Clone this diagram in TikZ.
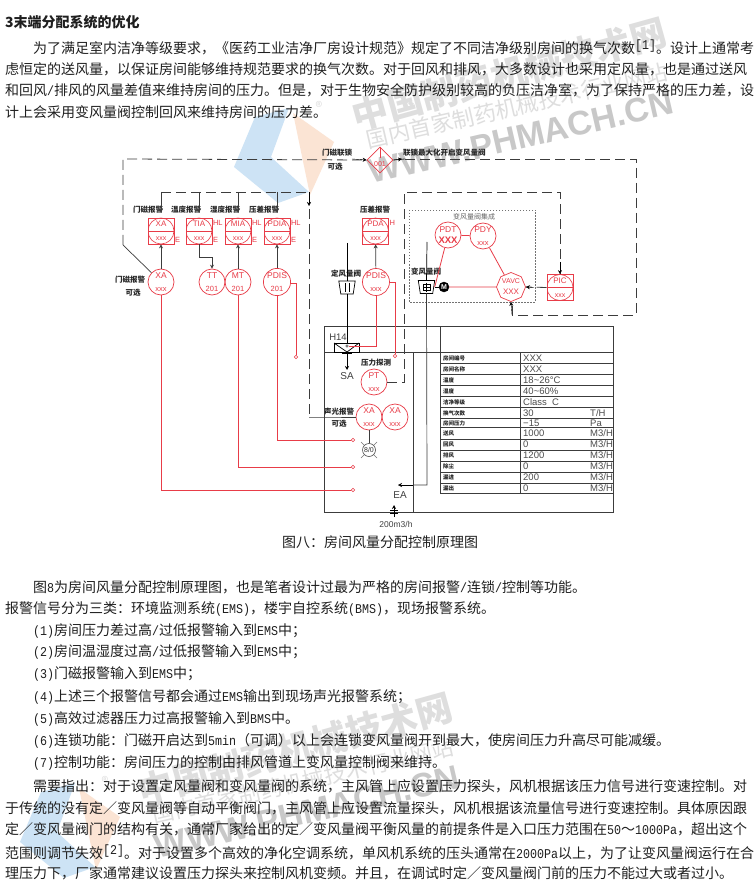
\documentclass[tikz,border=0pt]{standalone}
\usepackage{fontspec}
\usepackage{graphicx}
\setmainfont{Noto Sans CJK SC}
\newfontfamily\lmono{Liberation Mono}
\newfontfamily\dg{Liberation Sans}
\newfontfamily\wmb{Liberation Sans}
\usetikzlibrary{shapes.geometric,arrows.meta}
\definecolor{rd}{RGB}{232,60,72}
\definecolor{bk}{RGB}{60,60,60}
\definecolor{wmg}{RGB}{222,222,222}
\definecolor{wmbl}{RGB}{205,227,245}
\definecolor{wmo}{RGB}{251,228,212}
\newcommand{\lm}[1]{\scalebox{1}[1.15]{\lmono\fontsize{11.67}{14}\selectfont #1}}
\newcommand{\supr}[1]{\raisebox{4pt}{\lm{#1}}}
\newcommand{\wmark}[1]{%
  \fill[wmbl] (255,117) -- (289,108) -- (271,157) -- (309,192) -- (278,203) -- (234,167) -- cycle;
  \fill[wmo] (293,113) -- (334,142) -- (310,195) -- cycle;
  \node[wmt,rotate=15.5,font=\bfseries\fontsize{36}{40}\selectfont] (#1a) at (509,74) {中国制药机械技术网};
  \node[wmt,rotate=13,font=\fontsize{22}{26}\selectfont] (#1b) at (517,106) {国内首家制药机械技术行业网站};
  \node[wmt,rotate=13,font=\wmb\bfseries\fontsize{34}{38}\selectfont,text=wmg!90!black] (#1c) at (521,137) {WWW.PHMACH.CN};
  \node[wmt,font=\fontsize{14}{16}\selectfont] (#1d) at (319,107) {®};
}
\newcommand{\dampershape}[1]{\draw[black,line width=.7pt,fill=white] (#1.north west) -- (#1.north east) -- ([xshift=-2pt]#1.south east) -- ([xshift=2pt]#1.south west) -- cycle;}
\tikzset{
  x=1pt,y=-1pt,
  wmt/.style={inner sep=0,text=wmg},
  tl/.style={anchor=west,inner sep=0,font=\fontsize{14}{16}\selectfont,text=black!88},
  blk/.style={draw=bk,line width=.7pt},
  red/.style={draw=rd,line width=.8pt},
  dsh/.style={draw=bk,line width=.8pt,dash pattern=on 10pt off 5pt},
  tip/.style={-{Stealth[length=4pt,width=4pt]}},
  inst/.style={circle,draw=rd,line width=.7pt,minimum size=26pt,inner sep=0,text=rd,align=center,font=\dg\fontsize{8.5}{10.5}\selectfont},
  alarm/.style={rectangle,draw=rd,line width=.7pt,minimum size=26pt,inner sep=0,text=rd,align=center,font=\dg\fontsize{8}{12}\selectfont,
    path picture={\draw[rd,line width=.6pt] (path picture bounding box.center) circle (13pt);
      \draw[rd,line width=.6pt] (path picture bounding box.west) -- (path picture bounding box.east);}},
  lab/.style={inner sep=0,font=\bfseries\fontsize{7.5}{9}\selectfont,text=black!85},
  rlab/.style={anchor=west,inner sep=0,font=\dg\fontsize{7.5}{9}\selectfont,text=rd},
  endc/.style={circle,draw=rd,fill=white,line width=.6pt,minimum size=3.5pt,inner sep=0},
  eng/.style={inner sep=0,font=\dg\fontsize{9}{10}\selectfont,text=black!75},
  cell/.style={anchor=west,inner sep=0,font=\dg\fontsize{9.5}{10}\selectfont,text=black!70},
  rowl/.style={anchor=west,inner sep=0,font=\bfseries\fontsize{5.5}{6}\selectfont,text=black!85},
  damper/.style={rectangle,minimum width=16pt,minimum height=12.5pt,inner sep=0},
}
\begin{document}
\begin{tikzpicture}
\useasboundingbox (0,0) rectangle (754,882);
\fill[white] (0,0) rectangle (754,882);
% watermarks
\begin{scope}\wmark{wa}\end{scope}
\begin{scope}[shift={(-214,675)}]\wmark{wb}\end{scope}

% text above
\node[tl,font=\bfseries\fontsize{14}{16}\selectfont] (title) at (5,22) {3末端分配系统的优化};
\node[tl] (p1) at (33,47) {为了满足室内洁净等级要求，《医药工业洁净厂房设计规范》规定了不同洁净级别房间的换气次数\supr{[1]}。设计上通常考};
\node[tl] (p2) at (5,69) {虑恒定的送风量，以保证房间能够维持规范要求的换气次数。对于回风和排风，大多数设计也采用定风量，也是通过送风};
\node[tl] (p3) at (5,90) {和回风\lm{/}排风的风量差值来维持房间的压力。但是，对于生物安全防护级别较高的负压洁净室，为了保持严格的压力差，设};
\node[tl] (p4) at (5,112) {计上会采用变风量阀控制回风来维持房间的压力差。};

% instruments
\foreach \n/\x/\t in {xab/161/XA,tia/199/TIA,mia/238/MIA,pdia/277/PDIA,pda/375.5/PDA}
  \node[alarm] (\n) at (\x,231) {\t\\[2pt]\fontsize{7}{8}\selectfont xxx};
\node[alarm] (pic) at (560,287.5) {PIC\\[2pt]\fontsize{7}{8}\selectfont xxx};
\foreach \n/\x/\y/\t/\b in {xa/161/282/XA/xxx,tt/212/282/TT/201,mt/238/282/MT/201,pdis/277/282/PDIS/201,pdisb/376/282/PDIS/xxx,pdy/483/236/PDY/xxx,pt/374/382/PT/xxx,xac/369/417/XA/xxx,xad/395/417/XA/xxx}
  \node[inst] (\n) at (\x,\y) {\t\\[2pt]\fontsize{7.5}{8}\selectfont \b};
\node[inst] (pdt) at (448,235) {PDT\\[1pt]\bfseries\fontsize{9.5}{10}\selectfont XXX};
\node[inst,regular polygon,regular polygon sides=8,shape border rotate=22.5,minimum size=29pt,font=\dg\fontsize{7}{9}\selectfont] (vavc) at (511,287) {VAVC\\[2pt]\fontsize{8}{9}\selectfont XXX};
\node[diamond,draw=rd,line width=.7pt,minimum width=26pt,minimum height=26pt,inner sep=0] (dia) at (380,160) {};
\node[rlab,anchor=center,font=\dg\fontsize{7}{8}\selectfont] (diat) at (380,164) {001};
\coordinate (diatop) at (380,158);
\draw[red,line width=.5pt] (dia.north) -- (diatop);

% side letters
\foreach \n/\x/\y/\t in {l1/174.8/240/E,l2/212.8/223/HL,l3/212.8/240/E,l4/251.8/223/HL,l5/251.8/240/E,l6/290.8/223/HL,l7/290.8/240/E,l8/389.3/223/H}
  \node[rlab] (\n) at (\x,\y) {\t};

% labels
\foreach \n/\x/\y/\t in {la/148/210/门磁报警,lb/186/210/温度报警,lc/225/210/湿度报警,ld/264/210/压差报警,le/375/210/压差报警,lf/130/280/门磁报警,lg/133/293/可选,lh/346/274/定风量阀,li/426/272/变风量阀,lj/337/153/门磁联锁,lk/335/167/可选,ll/376/363/压力探测,lmm/339/412/声光报警,ln/339/424/可选}
  \node[lab] (\n) at (\x,\y) {\t};
\node[lab,anchor=west] (lo) at (403,153) {联锁最大化开启变风量阀};
\node[lab,font=\fontsize{7}{8}\selectfont,text=black!60] (lp) at (474,217) {变风量阀集成};

% integrated box
\draw[draw=black!55,line width=.7pt,dash pattern=on 1.5pt off 1.5pt] (409,210) rectangle (535,302);

% room and table
\coordinate (rtl) at (324,326); \coordinate (rbr) at (613,512);
\draw[blk] (rtl) rectangle (rbr);
\coordinate (ldl) at (324,352); \coordinate (ldr) at (613,352);
\draw[blk] (ldl) -- (ldr);
\coordinate (dvt) at (413,352); \coordinate (dvb) at (413,512);
\draw[blk] (dvt) -- (dvb);
\coordinate (ttl) at (440,326); \coordinate (tbl) at (440,493);
\draw[blk] (ttl) -- (tbl);
\coordinate (mct) at (520,352); \coordinate (mcb) at (520,493);
\draw[blk] (mct) -- (mcb);
\foreach \i/\y in {1/363,2/374,3/385,4/396,5/407,6/418,7/427,8/439,9/450,10/461,11/472,12/483,13/493}{
  \coordinate (rl\i) at (440,\y); \coordinate (rr\i) at (613,\y);
  \draw[blk,line width=.6pt] (rl\i) -- (rr\i);
}
\foreach \i/\y/\a in {1/358/房间编号,2/369/房间名称,3/380/温度,4/391/湿度,5/402/洁净等级,6/413/换气次数,7/423/房间压力,8/433/送风,9/444/回风,10/455/排风,11/466/除尘,12/477/漏进,13/488/漏出}
  \node[rowl] (ra\i) at (443,\y) {\a};
\foreach \i/\y/\b in {1/358/XXX,2/369/XXX,3/380/18\textasciitilde 26°C,4/391/40\textasciitilde 60\%,5/402/Class\ \ C,6/413/30,7/423/−15,8/433/1000,9/444/0,10/455/1200,11/466/0,12/477/200,13/488/0}
  \node[cell] (rb\i) at (523,\y) {\b};
\foreach \i/\y/\c in {6/413/{T/H},7/423/Pa,8/433/{M3/H},9/444/{M3/H},10/455/{M3/H},11/466/{M3/H},12/477/{M3/H},13/488/{M3/H}}
  \node[cell] (rc\i) at (590,\y) {\c};

% dashed interlocks
\coordinate (oa) at (123,159); \coordinate (ob) at (123,245);
\draw[dsh] (ob) -- (oa) -- (dia.west);
\draw[tip,draw=black] (352,159) -- (dia.west);
\draw[blk] (ob) -- (xa);
\coordinate (oc) at (636,159); \coordinate (od) at (636,315); \coordinate (oe) at (512,315); \coordinate (of) at (512,304);
\draw[blk,line width=.8pt] (dia.east) -- (405,159);
\draw[tip,draw=black] (dia.east) -- (402,159);
\draw[dsh] (405,159) -- (oc) -- (od) -- (oe) -- (of);
\draw[tip,draw=black] (oe) -- (vavc.south);
\coordinate (ia) at (404,192); \coordinate (ib) at (404,382); \coordinate (ic) at (560,192);
\draw[dsh] (pt.east) -- (ib) -- (ia) -- (ic) -- (pic.north);
\draw[tip,draw=black] (560,262) -- (pic.north);
\draw[dsh] (pic.west) -- (vavc.east);
\draw[tip,draw=black] (534,287.5) -- (vavc.east);
\coordinate (ta) at (161,192); \coordinate (tb) at (309,192); \coordinate (tc) at (309,417);
\draw[dsh] (ta) -- (tb) -- (tc);
\coordinate (tc2) at (327,417);
\draw[blk] (tc) -- (tc2) -- (xac.west);
\draw[tip,draw=black] (tb) -- (309,206);
\foreach \n in {xab,tia,mia,pdia}
  \draw[blk,tip,shorten >=5pt] (\n.north |- ta) -- (\n.north);

% alarm links
\draw[blk,tip] (xa) -- (xab);
\draw[blk,tip] (mt) -- (mia);
\draw[blk,tip] (pdis) -- (pdia);
\draw[blk,tip] (pdisb) -- (pda);
\coordinate (tk) at (212,257); \coordinate (tk2) at (199,257);
\draw[blk,tip] (tia.south) -- (tk2) -- (tk) -- (tt);

% dampers
\node[damper] (cav) at (347,287.5) {};
\node[damper] (vav) at (426.5,287) {};
\dampershape{cav}
\dampershape{vav}
\coordinate (ct) at (347,243); \coordinate (filt) at (347,343);
\draw[blk,black] (ct) -- (cav.north);
\draw[blk,black] (cav.south) -- (filt);
\draw[black,line width=.6pt] (345,283) -- (345,292) (349,283) -- (349,292);
\draw[black,line width=.5pt] (423,287) -- (430,287) (423,284.5) rectangle (430,290) (426.5,282.5) -- (426.5,291.5);
\coordinate (vt) at (427,242); \coordinate (vb) at (427,485); \coordinate (vc) at (398,485);
\draw[blk,black] (vt) -- (vav.north);
\draw[blk] (vav.south) -- (vb) -- (413,485);
\draw[tip,draw=black] (413,485) -- (vc);
\node[eng,font=\dg\fontsize{10}{11}\selectfont] (ea) at (400,495) {EA};
\node[circle,fill=black,draw=black,minimum size=10pt,inner sep=0,text=white,font=\dg\bfseries\fontsize{7}{8}\selectfont] (mot) at (444,287) {M};
\draw[blk,black] (vav.east) -- (mot);

% red signal lines
\draw[red] (mot) -- (vavc);
\draw[red] (pdt) -- (pdy);
\draw[red] (pdt) -- (vav.east);
\draw[red] (pdy) -- (vavc);
\coordinate (e1) at (353,490); \coordinate (e2) at (353,467); \coordinate (e3) at (353,440);
\node[endc] (c1) at (e1) {}; \node[endc] (c2) at (e2) {}; \node[endc] (c3) at (e3) {};
\draw[red] (xa.south) -- (161,490) -- (c1);
\draw[red] (mt.south) -- (238,467) -- (c2);
\draw[red] (pdis.south) -- (277,440) -- (c3);
\node[endc] (c4) at (296,357) {};
\coordinate (k4) at (296,283);
\draw[red] (pdis.east |- k4) -- (k4) -- (c4);
\node[endc] (c5) at (395,356) {};
\coordinate (k5) at (395,282);
\draw[red] (pdisb.east) -- (k5) -- (c5);
% filter
\coordinate (f1) at (334,343); \coordinate (f2) at (359,352); \coordinate (f3) at (347,352);
\draw[blk,black] (f1) rectangle (f2);
\draw[blk,black] (f1) -- (f3) -- (359,343);
\node[endc,draw=black!70,minimum size=2.5pt] (fc) at (347,346) {};
\coordinate (rk) at (376,346);
\draw[red] (pdisb.south) -- (rk) -- (fc);
\node[eng,font=\dg\fontsize{9.5}{10}\selectfont] (h14) at (338,337) {H14};
\coordinate (sa1) at (347,353); \coordinate (sa2) at (347,370);
\draw[blk,black] (342,353) -- (352,353);
\draw[blk,black,tip] (sa1) -- (sa2);
\node[eng,font=\dg\fontsize{10}{11}\selectfont] (sa) at (347,376.5) {SA};
% lamp
\node[circle,draw=black!70,fill=white,line width=.6pt,minimum size=13pt,inner sep=0,font=\dg\fontsize{7}{8}\selectfont,text=black!80] (lamp) at (369,450) {8/0};
\draw[blk] (xac) -- (lamp);
\draw[draw=black!55,line width=.5pt] (361,442) -- (364.5,445.5) (377,442) -- (373.5,445.5) (361,458) -- (364.5,454.5) (377,458) -- (373.5,454.5);
% bottom outlet
\coordinate (b1) at (394,517); \coordinate (b2) at (394,505);
\draw[blk,black,tip] (b1) -- (b2);
\draw[black,line width=.5pt] (390,510) -- (398,510) (390,513) -- (398,513);
\node[eng,font=\dg\fontsize{8.5}{9}\selectfont] (flow) at (396,524) {200m3/h};

% lower text
\node[tl,anchor=center] (cap) at (380,542) {图八：房间风量分配控制原理图};
\node[tl] (q0) at (33,587) {图\lm{8}为房间风量分配控制原理图，也是笔者设计过最为严格的房间报警\lm{/}连锁\lm{/}控制等功能。};
\node[tl] (q1) at (5,609) {报警信号分为三类：环境监测系统\lm{(EMS)}，楼宇自控系统\lm{(BMS)}，现场报警系统。};
\node[tl] (q2) at (33,631) {\lm{(1)}房间压力差过高\lm{/}过低报警输入到\lm{EMS}中；};
\node[tl] (q3) at (33,652) {\lm{(2)}房间温湿度过高\lm{/}过低报警输入到\lm{EMS}中；};
\node[tl] (q4) at (33,674) {\lm{(3)}门磁报警输入到\lm{EMS}中；};
\node[tl] (q5) at (33,697) {\lm{(4)}上述三个报警信号都会通过\lm{EMS}输出到现场声光报警系统；};
\node[tl] (q6) at (33,719) {\lm{(5)}高效过滤器压力过高报警输入到\lm{BMS}中。};
\node[tl] (q7) at (33,741) {\lm{(6)}连锁功能：门磁开启达到\lm{5min}（可调）以上会连锁变风量阀开到最大，使房间压力升高尽可能减缓。};
\node[tl] (q8) at (33,763) {\lm{(7)}控制功能：房间压力的控制由排风管道上变风量控制阀来维持。};
\node[tl] (q9) at (33,786) {需要指出：对于设置定风量阀和变风量阀的系统，主风管上应设置压力探头，风机根据该压力信号进行变速控制。对};
\node[tl] (q10) at (5,808) {于传统的没有定／变风量阀等自动平衡阀门，主风管上应设置流量探头，风机根据该流量信号进行变速控制。具体原因跟};
\node[tl] (q11) at (5,829) {定／变风量阀门的结构有关，通常厂家给出的定／变风量阀平衡风量的前提条件是入口压力范围在\lm{50}～\lm{1000Pa}，超出这个};
\node[tl] (q12) at (5,852) {范围则调节失效\supr{[2]}。对于设置多个高效的净化空调系统，单风机系统的压头通常在\lm{2000Pa}以上，为了让变风量阀运行在合};
\node[tl] (q13) at (5,873) {理压力下，厂家通常建议设置压力探头来控制风机变频。并且，在调试时定／变风量阀门前的压力不能过大或者过小。};
\end{tikzpicture}
\end{document}
